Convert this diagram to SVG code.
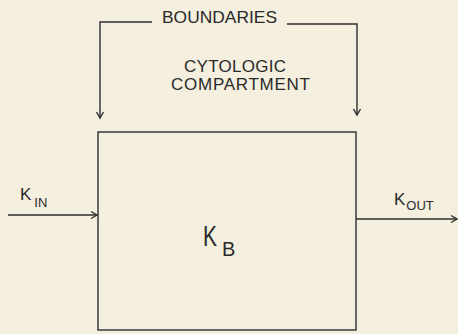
<svg xmlns="http://www.w3.org/2000/svg" width="458" height="334" viewBox="0 0 458 334">
<style>
.ln{fill:none;stroke:#2e2e2e;stroke-width:1.4}
.t{font-family:"Liberation Sans",Arial,sans-serif;fill:#2a2a2a}
</style>
<defs>
<marker id="ah" markerWidth="10" markerHeight="10" refX="8" refY="5" orient="auto" markerUnits="userSpaceOnUse">
<path d="M2,1.5 L8,5 L2,8.5" fill="none" stroke="#2e2e2e" stroke-width="1.4"/>
</marker>
</defs>
<rect width="458" height="334" fill="#f4efdf"/>
<g id="connectors">
<path class="ln" d="M152,22 H100 V118" marker-end="url(#ah)"/>
<path class="ln" d="M287,24 H357 V115" marker-end="url(#ah)"/>
<path class="ln" d="M8,215 H97" marker-end="url(#ah)"/>
<path class="ln" d="M356,219 H457" marker-end="url(#ah)"/>
</g>
<g id="boundaries">
<text class="t" x="162" y="23" font-size="17" textLength="115" lengthAdjust="spacingAndGlyphs">BOUNDARIES</text>
</g>
<g id="cytologic">
<text class="t" x="184" y="72" font-size="17" textLength="102" lengthAdjust="spacing">CYTOLOGIC</text>
<text class="t" x="171" y="90" font-size="17" textLength="139" lengthAdjust="spacing">COMPARTMENT</text>
</g>
<g id="compartment">
<rect class="ln" x="98" y="132" width="258" height="198"/>
<text class="t" x="203" y="246" font-size="29" textLength="14" lengthAdjust="spacingAndGlyphs">K</text>
<text class="t" x="222" y="256" font-size="20">B</text>
</g>
<g id="kin">
<text class="t" x="20" y="200" font-size="17">K<tspan font-size="13" dx="3" dy="7">IN</tspan></text>
</g>
<g id="kout">
<text class="t" x="394" y="205" font-size="17">K<tspan font-size="13" dx="1" dy="5">OUT</tspan></text>
</g>
</svg>
